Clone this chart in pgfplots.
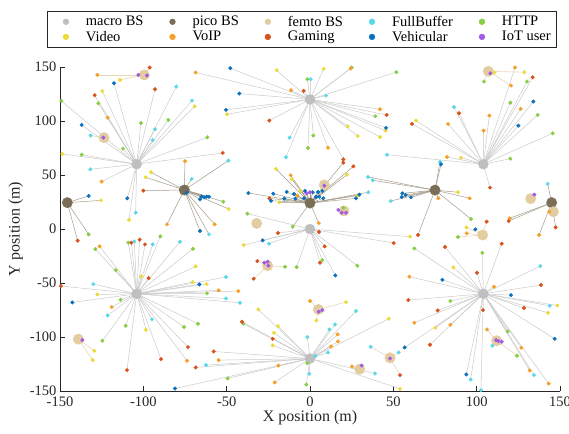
\documentclass[border=0pt]{standalone}
\usepackage{pgfplots}
\usepackage{pgfplotstable}
\pgfplotsset{compat=1.18}
\usepackage{fontspec}
\setmainfont{Liberation Serif}
\definecolor{macroc}{HTML}{BFBFBF}
\definecolor{picoc}{HTML}{7A6E57}
\definecolor{femtoc}{HTML}{E3CCA0}
\definecolor{fbc}{HTML}{5AD8EA}
\definecolor{httpc}{HTML}{86CF44}
\definecolor{videoc}{HTML}{EDDA3A}
\definecolor{voipc}{HTML}{F5A02A}
\definecolor{gamec}{HTML}{D9521C}
\definecolor{vehc}{HTML}{0A70BD}
\definecolor{iotc}{HTML}{A05BE6}
\definecolor{macroln}{HTML}{CACACA}
\definecolor{picoln}{HTML}{A59C8A}
\definecolor{femtoln}{HTML}{E9D7B4}
\definecolor{axc}{HTML}{262626}

\pgfplotstableread{
x y
0 0
0 120
-104 60
104 60
-104 -60
104 -60
0 -120
}\macrobs

\pgfplotstableread{
x y
-145.6 24.4
-75.4 36.1
0 24
75 36
145 24.4
}\picobs

\pgfplotstableread{
x y
-99.4 142.7
-123.6 84.6
107 146
8.6 40.8
20.4 16.7
-32 5.2
-25.4 -34
132.4 28.1
146 16
103.6 -5.6
-139 -102
5 -74.5
29.8 -129.8
48 -119.3
112 -103.5
}\femtobs

% x y bx by bt ut   (bt: 0 macro, 1 pico, 2 femto; ut: 1 FullBuffer, 2 HTTP, 3 Video, 4 VoIP, 5 Gaming, 6 Vehicular, 7 IoT)
\pgfplotstableread{
x y bx by bt ut
-68.6 144.9 0 120 0 4
-47.8 148.9 0 120 0 6
-20 147 0 120 0 3
8.2 148.3 0 120 0 3
25 149.5 0 120 0 2
24.4 148.6 0 120 0 4
-1.6 138.7 0 120 0 2
0.4 138.7 0 120 0 1
-11.4 128.5 0 120 0 4
-3.8 127.9 0 120 0 5
-42.4 125.4 0 120 0 6
9.6 123.5 0 120 0 1
-50.4 110.3 0 120 0 6
-49.8 106.2 0 120 0 3
-24.4 100.4 0 120 0 5
42 110.9 0 120 0 4
46 105.6 0 120 0 5
39.2 104.4 0 120 0 2
22.6 95.1 0 120 0 3
28.6 86.1 0 120 0 3
42 85.2 0 120 0 3
45.6 93.6 0 120 0 6
45.4 91.1 0 120 0 3
-12.2 84.6 0 120 0 1
2 86.5 0 120 0 2
-1.2 75 0 120 0 2
10.8 75.3 0 120 0 4
-14.4 66.4 0 120 0 1
20 64.5 0 120 0 5
51.8 145.2 0 120 0 2
-117.6 135 -104 60 0 6
-93 129.4 -104 60 0 5
-80.2 131.9 -104 60 0 1
-129.2 123.9 -104 60 0 5
-124.6 127.6 -104 60 0 3
-149.2 118.6 -104 60 0 2
-127 116.4 -104 60 0 2
-70.8 118.9 -104 60 0 1
-69.2 113.6 -104 60 0 3
-121.4 103.1 -104 60 0 4
-85 101 -104 60 0 2
-101.4 98.2 -104 60 0 2
-137 96.3 -104 60 0 6
-93 92.3 -104 60 0 1
-94.4 82.4 -104 60 0 1
-112.2 74.4 -104 60 0 2
-61.6 84.9 -104 60 0 2
-148.6 69.5 -104 60 0 3
-137 68.8 -104 60 0 2
-131.8 55.3 -104 60 0 1
-52.4 70.4 -104 60 0 5
-125 43.9 -104 60 0 4
-109.6 28.4 -104 60 0 6
-108.6 8.6 -104 60 0 3
-104.6 15.1 -104 60 0 1
-127.6 142.7 -99.4 142.7 2 4
-103 142.7 -99.4 142.7 2 7
-97.8 142.1 -99.4 142.7 2 7
-96.2 149.5 -99.4 142.7 2 5
-114 138 -99.4 142.7 2 3
-131.6 86.5 -123.6 84.6 2 1
-124 84.6 -123.6 84.6 2 7
-75 62.7 -75.4 36.1 1 4
-49 63.3 -75.4 36.1 1 1
-95.4 52.5 -75.4 36.1 1 3
-98.6 47.9 -75.4 36.1 1 3
-100 35.5 -75.4 36.1 1 5
-71 46.3 -75.4 36.1 1 1
-74 33.7 -75.4 36.1 1 6
-65 30 -75.4 36.1 1 6
-66 27.5 -75.4 36.1 1 6
-63.4 29.3 -75.4 36.1 1 6
-62 29.9 -75.4 36.1 1 6
-60.6 29.9 -75.4 36.1 1 6
-52 25.3 -75.4 36.1 1 2
-48.8 18.5 -75.4 36.1 1 3
-57.2 4.3 -75.4 36.1 1 4
-60.6 -5 -75.4 36.1 1 1
-66 -1.9 -75.4 36.1 1 6
-85.8 4.3 -75.4 36.1 1 4
-132.8 30.6 -145.6 24.4 1 6
-125.4 26.5 -145.6 24.4 1 3
-132.8 -5 -145.6 24.4 1 2
-139.4 -10.8 -145.6 24.4 1 5
-128.8 -18.6 -104 -60 0 2
-126.2 -16.1 -104 -60 0 4
-116.6 -38 -104 -60 0 2
-109 -12.7 -104 -60 0 2
-107.2 -12.7 -104 -60 0 5
-105.4 -11.5 -104 -60 0 1
-102.2 -9.9 -104 -60 0 5
-99 -14.2 -104 -60 0 5
-94.4 -14.2 -104 -60 0 1
-89.8 -6.8 -104 -60 0 2
-78 -11.8 -104 -60 0 1
-70.2 -18.3 -104 -60 0 2
-68.6 -34.6 -104 -60 0 3
-101.2 -43.9 -104 -60 0 3
-96.8 -45.5 -104 -60 0 5
-50.4 -44.5 -104 -60 0 1
-149.5 -52.8 -104 -60 0 5
-130 -51 -104 -60 0 1
-127.6 -60.6 -104 -60 0 3
-142.6 -68 -104 -60 0 6
-113.6 -65.5 -104 -60 0 2
-119 -72.3 -104 -60 0 4
-121.4 -80 -104 -60 0 1
-110.6 -89.6 -104 -60 0 2
-124.6 -103.5 -104 -60 0 2
-109.8 -130.7 -104 -60 0 5
-94.8 -83.7 -104 -60 0 1
-98.4 -93.3 -104 -60 0 3
-75.6 -90.8 -104 -60 0 2
-67.2 -87.7 -104 -60 0 2
-89.4 -120.5 -104 -60 0 5
-73.8 -122 -104 -60 0 4
-73.2 -109.4 -104 -60 0 5
-70.4 -49.1 -104 -60 0 3
-66.4 -51.3 -104 -60 0 6
-62 -51 -104 -60 0 3
-61.8 -59.6 -104 -60 0 2
-54.8 -56.8 -104 -60 0 4
-50.4 -64.3 -104 -60 0 1
-43 -57.5 -104 -60 0 4
-42 -68.3 -104 -60 0 1
-136.6 -102.9 -139 -102 2 7
-129.4 -112.8 -139 -102 2 3
-130.4 -121.4 -139 -102 2 3
-57.8 -113.4 0 -120 0 5
-54.8 -121.4 0 -120 0 4
-68.6 -128.2 0 -120 0 5
-62.4 -126 0 -120 0 1
-49.4 -138.4 0 -120 0 2
-81 -147.7 0 -120 0 6
-31 -74.5 0 -120 0 3
-40.8 -85.9 0 -120 0 5
-40 -87.7 0 -120 0 2
-19.2 -89.9 0 -120 0 3
-21.6 -96.1 0 -120 0 3
-22.4 -101.7 0 -120 0 5
-22.4 -107.8 0 -120 0 3
-1.6 -100.1 0 -120 0 1
27.6 -76 0 -120 0 1
15 -88.4 0 -120 0 1
11.6 -93 0 -120 0 1
16.6 -97.6 0 -120 0 4
16.8 -104.1 0 -120 0 4
12.6 -108.8 0 -120 0 4
10.8 -114.3 0 -120 0 1
47.2 -83.1 0 -120 0 3
3.2 -117.7 0 -120 0 1
-1.6 -124.2 0 -120 0 2
-0.4 -134.1 0 -120 0 1
-2.2 -144 0 -120 0 2
-19 -126.4 0 -120 0 4
-21.2 -142.1 0 -120 0 4
39 -133.8 0 -120 0 1
54 -148 0 -120 0 3
5.2 -76.6 5 -74.5 2 7
7.4 -75.1 5 -74.5 2 7
0 -66.7 5 -74.5 2 4
21.6 -67.7 5 -74.5 2 3
3.8 -84.7 5 -74.5 2 3
31 -126.4 29.8 -129.8 2 7
25.2 -127.3 29.8 -129.8 2 4
48 -119.9 48 -119.3 2 7
36.4 -109.1 48 -119.3 2 1
53.2 -114.3 48 -119.3 2 1
54 -135.3 48 -119.3 2 5
-27.4 -31.2 -25.4 -34 2 7
-25.4 -30.3 -25.4 -34 2 7
-25 -34 -25.4 -34 2 7
-31.6 -29.7 -25.4 -34 2 5
-15 -35 -25.4 -34 2 2
-33.8 -46 -25.4 -34 2 5
-37.6 14.2 0 0 0 2
-19.2 -3.7 0 0 0 5
-28.4 -10.5 0 0 0 6
-24.6 -13.6 0 0 0 1
-39.8 -14.9 0 0 0 3
5.4 -2.8 0 0 0 5
8.8 -16.1 0 0 0 5
6 -31.2 0 0 0 5
7.4 -28.8 0 0 0 2
28.4 -34 0 0 0 2
15.2 -43 0 0 0 6
-8 -35.3 0 0 0 2
50.2 -13 0 0 0 5
60 -7.1 0 0 0 3
-20.4 55.6 0 24 1 3
-11.6 49.7 0 24 1 4
-10.8 46 0 24 1 3
26 58 0 24 1 5
20 61.4 0 24 1 5
22.2 50.3 0 24 1 3
-37 33.3 0 24 1 6
-22 32.7 0 24 1 6
-24.4 28.4 0 24 1 5
-23.4 26.2 0 24 1 6
-18.4 24.7 0 24 1 3
-14 34.3 0 24 1 6
-9.6 32.4 0 24 1 6
-15.4 28.1 0 24 1 6
-8.8 28.1 0 24 1 6
-7.6 30.9 0 24 1 4
-5.6 35.2 0 24 1 3
-3 35.2 0 24 1 6
-2 33 0 24 1 7
0 34 0 24 1 7
1.6 34 0 24 1 6
-3.6 28.4 0 24 1 6
4.8 34.3 0 24 1 6
7.4 35.2 0 24 1 6
5.6 29.9 0 24 1 6
3.6 29.6 0 24 1 6
8 28.4 0 24 1 6
27.6 28.4 0 24 1 6
28.4 30.9 0 24 1 3
29.6 31.8 0 24 1 6
35 34 0 24 1 1
-10.4 2.1 0 24 1 2
5.2 5.5 0 24 1 4
8.6 40.1 8.6 40.8 2 7
17 17.6 20.4 16.7 2 7
19 15.1 20.4 16.7 2 7
21.6 15.1 20.4 16.7 2 7
20 19.7 20.4 16.7 2 2
34.8 48.2 75 36 1 1
37.6 45.1 75 36 1 1
78 62 75 36 1 1
78.6 59.9 75 36 1 6
55.4 33 75 36 1 6
57.4 31.5 75 36 1 6
55 29.6 75 36 1 6
60.6 29.3 75 36 1 6
48.4 25.9 75 36 1 1
88.8 34 75 36 1 3
95.8 28.4 75 36 1 4
77 28.4 75 36 1 4
96.6 9.2 75 36 1 2
64.8 -5.6 75 36 1 5
123 149.5 104 60 0 4
133.6 140.5 104 60 0 5
130.2 136.5 104 60 0 2
120.2 117 104 60 0 2
134 118 104 60 0 6
126.4 111.2 104 60 0 4
136.6 105.6 104 60 0 2
125 95.7 104 60 0 6
145.6 88.6 104 60 0 2
120.2 65.1 104 60 0 2
86.4 113 104 60 0 1
89.4 107.2 104 60 0 5
107.6 105 104 60 0 4
104.2 91.1 104 60 0 4
82.8 97.3 104 60 0 4
63.6 100.4 104 60 0 3
61.2 97.3 104 60 0 5
82.2 66.7 104 60 0 4
90.6 66.1 104 60 0 3
46.2 68.8 104 60 0 1
108 38.3 104 60 0 5
108.2 144.2 107 146 2 7
110.6 144.9 107 146 2 3
128.6 145.2 107 146 2 3
120.6 132.8 107 146 2 4
104.4 136.5 107 146 2 2
106 6.8 103.6 -5.6 2 5
93.8 1.5 103.6 -5.6 2 3
99.2 -0.3 103.6 -5.6 2 6
94 -4 103.6 -5.6 2 4
88.8 -7.4 103.6 -5.6 2 2
134.6 31.8 132.4 28.1 2 7
142.6 41.7 145 24.4 1 1
119.8 9.9 145 24.4 1 4
119.2 7.4 145 24.4 1 5
143.6 16 145 24.4 1 4
137.4 -5.6 145 24.4 1 4
147.4 1.5 145 24.4 1 5
62.6 -18 104 -60 0 2
81 -16.7 104 -60 0 5
115 -13.6 104 -60 0 5
103.4 -22 104 -60 0 2
138.2 -34.3 104 -60 0 1
86 -35.6 104 -60 0 3
100.2 -40.5 104 -60 0 5
59.6 -44.2 104 -60 0 4
79.4 -47 104 -60 0 6
110.4 -53.5 104 -60 0 4
138.6 -51.9 104 -60 0 5
120.6 -61.2 104 -60 0 6
59 -65.8 104 -60 0 5
84.2 -66.7 104 -60 0 2
76.6 -75.4 104 -60 0 5
62.6 -86.8 104 -60 0 4
75.2 -91.5 104 -60 0 3
84.2 -88.7 104 -60 0 4
72 -107.2 104 -60 0 5
103.8 -75.1 104 -60 0 5
128.4 -73.2 104 -60 0 5
143.8 -71.1 104 -60 0 1
148.4 -70.8 104 -60 0 3
142.8 -77.6 104 -60 0 3
146.8 -101.7 104 -60 0 6
118.6 -94.9 104 -60 0 2
126.8 -110 104 -60 0 4
131.8 -131 104 -60 0 4
134.4 -135.3 104 -60 0 1
143.2 -143.1 104 -60 0 4
93.8 -134.7 104 -60 0 6
96.4 -139.4 104 -60 0 1
102.6 -149.2 104 -60 0 1
56.8 -109.7 104 -60 0 6
106.2 -93 112 -103.5 2 4
111.6 -102.9 112 -103.5 2 7
113 -103.8 112 -103.5 2 7
115 -104.4 112 -103.5 2 7
109.4 -108.1 112 -103.5 2 1
124.2 -117.4 112 -103.5 2 2
}\users

\begin{document}
\begin{tikzpicture}
\useasboundingbox (-60pt,-42pt) rectangle (509pt,391pt);
\begin{axis}[
  scale only axis, width=500pt, height=324pt,
  at={(0,0)}, anchor=south west,
  xmin=-150, xmax=150, ymin=-150, ymax=150,
  enlargelimits=false, clip=false,
  axis x line*=bottom, axis y line*=left,
  axis line style={draw=axc, line width=0.6pt},
  tick align=inside, major tick length=5pt,
  tick style={draw=axc, line width=0.6pt},
  xtick={-150,-100,...,150}, ytick={-150,-100,...,150},
  /pgf/number format/assume math mode=true,
  tick label style={font=\fontsize{14.5}{16}\selectfont, text=axc},
  xticklabel style={yshift=-2pt},
  xlabel={X position (m)}, ylabel={Y position (m)},
  label style={font=\fontsize{16}{18}\selectfont, text=axc},
  xlabel style={yshift=3pt},
  legend columns=5,
  legend cell align=left,
  legend style={at={(1,1)}, anchor=south east, xshift=-3pt, yshift=19pt,
    draw=axc, line width=0.6pt, font=\fontsize{14.5}{16}\selectfont,
    inner xsep=4pt, inner ysep=3pt, row sep=-0.5pt,
    /tikz/every odd column/.append style={column sep=15pt},
    /tikz/every even column/.append style={column sep=12pt}},
  legend image code/.code={\path[draw=none,fill=none] (0pt,-3pt) rectangle (18pt,3pt);
    \draw[#1, mark size=2.8pt] plot coordinates {(15pt,0pt)};},
]
% links user -> serving BS
\addplot[forget plot, draw=macroln, line width=0.5pt,
  quiver={u=\thisrow{bx}-\thisrow{x}, v=\thisrow{by}-\thisrow{y}},
  restrict expr to domain={\thisrow{bt}}{-0.5:0.5}] table[x=x,y=y] {\users};
\addplot[forget plot, draw=femtoln, line width=0.6pt,
  quiver={u=\thisrow{bx}-\thisrow{x}, v=\thisrow{by}-\thisrow{y}},
  restrict expr to domain={\thisrow{bt}}{1.5:2.5}] table[x=x,y=y] {\users};
\addplot[forget plot, draw=picoln, line width=0.5pt,
  quiver={u=\thisrow{bx}-\thisrow{x}, v=\thisrow{by}-\thisrow{y}},
  restrict expr to domain={\thisrow{bt}}{0.5:1.5}] table[x=x,y=y] {\users};
% base stations
\addplot[only marks, mark=*, mark size=5pt, color=macroc, mark options={draw=macroc, fill=macroc}] table[x=x,y=y] {\macrobs};
\addlegendentry{macro BS}
\addplot[only marks, mark=*, mark size=5.2pt, color=picoc, mark options={draw=picoc, fill=picoc}] table[x=x,y=y] {\picobs};
\addlegendentry{pico BS}
\addplot[only marks, mark=*, mark size=5.2pt, color=femtoc, mark options={draw=femtoc, fill=femtoc}] table[x=x,y=y] {\femtobs};
\addlegendentry{femto BS}
% users
\addplot[only marks, mark=*, mark size=1.8pt, color=fbc, mark options={draw=fbc, fill=fbc},
  restrict expr to domain={\thisrow{ut}}{0.5:1.5}] table[x=x,y=y] {\users};
\addlegendentry{FullBuffer}
\addplot[only marks, mark=*, mark size=1.8pt, color=httpc, mark options={draw=httpc, fill=httpc},
  restrict expr to domain={\thisrow{ut}}{1.5:2.5}] table[x=x,y=y] {\users};
\addlegendentry{HTTP}
\addplot[only marks, mark=*, mark size=1.8pt, color=videoc, mark options={draw=videoc, fill=videoc},
  restrict expr to domain={\thisrow{ut}}{2.5:3.5}] table[x=x,y=y] {\users};
\addlegendentry{Video}
\addplot[only marks, mark=*, mark size=1.8pt, color=voipc, mark options={draw=voipc, fill=voipc},
  restrict expr to domain={\thisrow{ut}}{3.5:4.5}] table[x=x,y=y] {\users};
\addlegendentry{VoIP}
\addplot[only marks, mark=*, mark size=1.8pt, color=gamec, mark options={draw=gamec, fill=gamec},
  restrict expr to domain={\thisrow{ut}}{4.5:5.5}] table[x=x,y=y] {\users};
\addlegendentry{Gaming}
\addplot[only marks, mark=*, mark size=1.8pt, color=vehc, mark options={draw=vehc, fill=vehc},
  restrict expr to domain={\thisrow{ut}}{5.5:6.5}] table[x=x,y=y] {\users};
\addlegendentry{Vehicular}
\addplot[only marks, mark=*, mark size=1.8pt, color=iotc, mark options={draw=iotc, fill=iotc},
  restrict expr to domain={\thisrow{ut}}{6.5:7.5}] table[x=x,y=y] {\users};
\addlegendentry{IoT user}
\end{axis}
\end{tikzpicture}
\end{document}
